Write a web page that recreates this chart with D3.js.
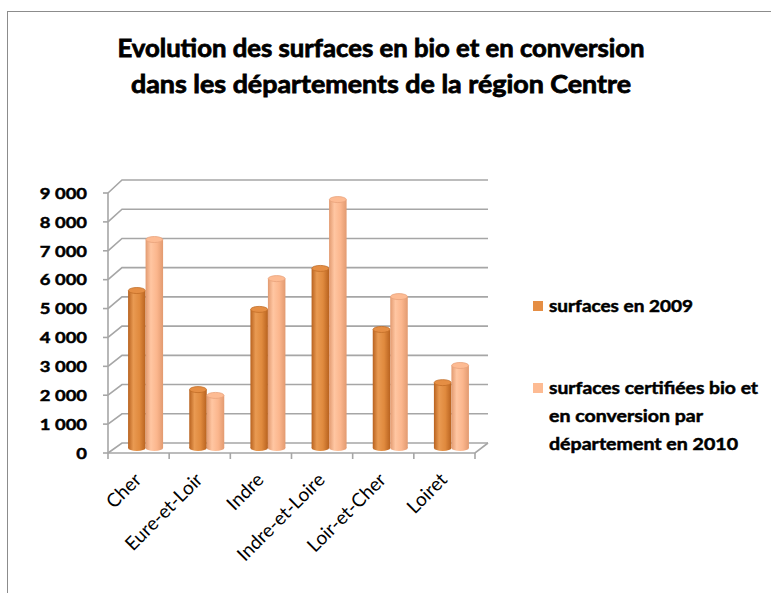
<!DOCTYPE html>
<html>
<head>
<meta charset="utf-8">
<script src="https://cdn.jsdelivr.net/npm/d3@7"></script>
<style>
  body { margin: 0; background: #fff; }
  svg { display: block; }
  text { font-family: Lato, "Open Sans", sans-serif; fill: #000; }
  .heavy { stroke: #000; stroke-width: 0.5px; }
</style>
</head>
<body>
<svg id="chart" width="771" height="593"></svg>
<script>
"use strict";

// data
const categories = ["Cher", "Eure-et-Loir", "Indre", "Indre-et-Loire", "Loir-et-Cher", "Loiret"];
const surfaces2009 = [5420, 2010, 4770, 6180, 4080, 2250];
const surfaces2010 = [7175, 1810, 5830, 8550, 5210, 2840];
const seriesNames = ["surfaces en 2009", "surfaces certifiées bio et en conversion par département en 2010"];
const yTicks = [0, 1000, 2000, 3000, 4000, 5000, 6000, 7000, 8000, 9000];
const titleLines = ["Evolution des surfaces en bio et en conversion", "dans les départements de la région Centre"];

let svg = d3.select("#chart");

// frame
svg.append("rect")
  .attr("x", 7.5).attr("y", 11.5)
  .attr("width", 800).attr("height", 620)
  .attr("fill", "none").attr("stroke", "#8c8c8c");

// gradients for the cylinders
let defs = svg.append("defs");
function cylGrad(id, edge, mid, light) {
  let g = defs.append("linearGradient").attr("id", id)
    .attr("x1", "0").attr("x2", "1").attr("y1", "0").attr("y2", "0");
  g.append("stop").attr("offset", "0%").attr("stop-color", edge);
  g.append("stop").attr("offset", "30%").attr("stop-color", light);
  g.append("stop").attr("offset", "65%").attr("stop-color", mid);
  g.append("stop").attr("offset", "100%").attr("stop-color", edge);
}
cylGrad("g2009", "#b8621f", "#e08a3e", "#e99a52");
cylGrad("g2010", "#e29a70", "#fbb68d", "#ffc6a2");
const capColors = ["#e58e44", "#fdbb93"];
const capStroke = ["#c26d27", "#e8a27b"];

// scales
let x = d3.scaleBand().domain(categories).range([108, 475]);
let yFront = d3.scaleLinear().domain([0, 9000]).range([453, 193]);
let yBack = d3.scaleLinear().domain([0, 9000]).range([443, 180]);
let yMid = d3.scaleLinear().domain([0, 9000]).range([448, 186.5]);
let inner = d3.scaleBand().domain([0, 1]).range([0, 35]);
const depthX = 14, backRight = 488;

let fmt = d3.formatLocale({ decimal: ",", thousands: " ", grouping: [3], currency: ["", "€"] }).format(",");

// stretch a text a bit wider (the source fonts are wider than Lato)
function widen(sel, factor) {
  sel.each(function() {
    let len = this.getComputedTextLength();
    d3.select(this).attr("textLength", len * factor).attr("lengthAdjust", "spacingAndGlyphs");
  });
}

// grid (side wall + back wall)
let grid = svg.append("g").attr("stroke", "#a6a6a6").attr("stroke-width", 1.6).attr("fill", "none");
grid.selectAll("path.grid").data(yTicks).enter().append("path")
  .attr("class", "grid")
  .attr("d", t => `M${x.range()[0]},${yFront(t)}L${x.range()[0] + depthX},${yBack(t)}L${backRight},${yBack(t)}`);

// floor
grid.append("path")
  .attr("d", `M${backRight},${yBack(0)}L${x.range()[1]},${yFront(0)}L${x.range()[0]},${yFront(0)}`);

// front vertical axis
grid.append("line")
  .attr("x1", x.range()[0]).attr("x2", x.range()[0])
  .attr("y1", yFront(9000)).attr("y2", yFront(0));
grid.selectAll("line.ytick").data(yTicks).enter().append("line")
  .attr("class", "ytick")
  .attr("x1", x.range()[0] - 5).attr("x2", x.range()[0])
  .attr("y1", d => yFront(d)).attr("y2", d => yFront(d));
let bounds = categories.map(c => x(c)).concat([x.range()[1]]);
grid.selectAll("line.xtick").data(bounds).enter().append("line")
  .attr("class", "xtick")
  .attr("x1", d => d).attr("x2", d => d)
  .attr("y1", yFront(0)).attr("y2", yFront(0) + 6);

// y labels
svg.append("g").selectAll("text").data(yTicks).enter().append("text")
  .attr("class", "heavy")
  .attr("x", 87).attr("y", d => yFront(d))
  .attr("dy", "0.36em")
  .attr("text-anchor", "end")
  .style("font-size", "16px").style("font-weight", "bold")
  .text(d => fmt(d))
  .call(widen, 1.15);

// bars
let series = [surfaces2009, surfaces2010];
let barW = inner.bandwidth();
let ry = 3;
let bars = svg.append("g");
categories.forEach((c, i) => {
  series.forEach((vals, s) => {
    let bx = x(c) + x.bandwidth() / 2 + depthX / 2 - 17.5 + inner(s);
    let top = yMid(vals[i]), base = yMid(0);
    let g = bars.append("g");
    g.append("ellipse")
      .attr("cx", bx + barW / 2).attr("cy", base).attr("rx", barW / 2).attr("ry", ry)
      .attr("fill", `url(#g${s === 0 ? 2009 : 2010})`);
    g.append("rect")
      .attr("x", bx).attr("y", top).attr("width", barW).attr("height", base - top)
      .attr("fill", `url(#g${s === 0 ? 2009 : 2010})`);
    g.append("ellipse")
      .attr("cx", bx + barW / 2).attr("cy", top).attr("rx", barW / 2 - 0.3).attr("ry", ry)
      .attr("fill", capColors[s]).attr("stroke", capStroke[s]).attr("stroke-width", 0.8);
  });
});

// x labels
svg.append("g").selectAll("text").data(categories).enter().append("text")
  .attr("transform", d => `translate(${x(d) + x.bandwidth() / 2 + 4},${481}) rotate(-45)`)
  .attr("text-anchor", "end")
  .style("font-size", "19px")
  .text(d => d);

// title
svg.append("g").selectAll("text").data(titleLines).enter().append("text")
  .attr("class", "heavy")
  .attr("x", 381).attr("y", (d, i) => 57 + i * 36)
  .attr("text-anchor", "middle")
  .attr("textLength", (d, i) => i === 0 ? 527 : 500)
  .attr("lengthAdjust", "spacingAndGlyphs")
  .style("font-size", "25px").style("font-weight", "bold")
  .style("stroke-width", "0.8px")
  .text(d => d);

// legend
let legend = svg.append("g");
let legendLines = [["surfaces en 2009"], ["surfaces certifiées bio et", "en conversion par", "département en 2010"]];
let legendWidths = [[144], [209, 154, 189]];
let legendY = [306, 388];
legendLines.forEach((lines, s) => {
  legend.append("rect")
    .attr("x", 533).attr("y", legendY[s] - 5).attr("width", 10).attr("height", 10)
    .attr("fill", capColors[s]);
  legend.selectAll(null).data(lines).enter().append("text")
    .attr("class", "heavy")
    .attr("x", 549).attr("y", (d, j) => legendY[s] + 6 + j * 28)
    .attr("textLength", (d, j) => legendWidths[s][j])
    .attr("lengthAdjust", "spacingAndGlyphs")
    .style("font-size", "17px").style("font-weight", "bold")
    .text(d => d);
});
</script>
</body>
</html>
